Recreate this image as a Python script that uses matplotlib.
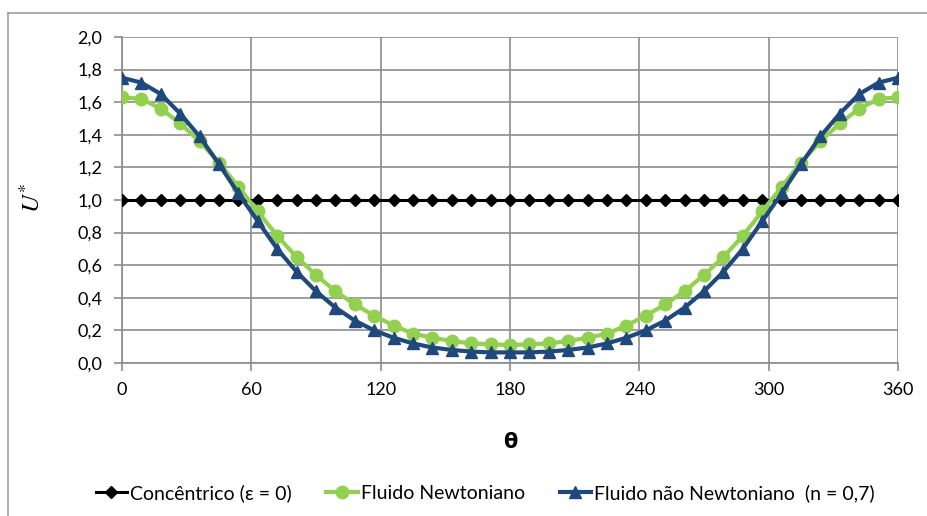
import matplotlib.pyplot as plt
from matplotlib.lines import Line2D

plt.rcParams['font.family'] = ['Lato', 'DejaVu Sans']

# angulo (graus), passo de 9
theta = list(range(0, 361, 9))

# Concentrico
u_conc = [1.0] * len(theta)

# Fluido Newtoniano (0..180, depois simetrico)
u_newt_meia = [1.63, 1.62, 1.56, 1.47, 1.36, 1.23, 1.08, 0.93, 0.78, 0.65, 0.54,
               0.44, 0.36, 0.29, 0.23, 0.18, 0.155, 0.135, 0.12, 0.115, 0.11]
u_newt = u_newt_meia + u_newt_meia[-2::-1]

# Fluido nao Newtoniano (n = 0,7)
u_nn_meia = [1.75, 1.72, 1.65, 1.53, 1.39, 1.22, 1.04, 0.87, 0.70, 0.56, 0.44,
             0.34, 0.26, 0.20, 0.155, 0.12, 0.095, 0.08, 0.07, 0.065, 0.065]
u_nn = u_nn_meia + u_nn_meia[-2::-1]

xticks = [0, 60, 120, 180, 240, 300, 360]
yticks = [0.0, 0.2, 0.4, 0.6, 0.8, 1.0, 1.2, 1.4, 1.6, 1.8, 2.0]

W, H = 927, 516
fig = plt.figure(figsize=(W / 100, H / 100), dpi=100)
ax = fig.add_axes([122 / W, 1 - 363 / H, (898 - 122) / W, (363 - 37) / H])

cor_grid = '#8c8c8c'
verde = '#92d050'
azul = '#1f497d'

ax.plot(theta, u_conc, color='black', lw=2.2, marker='D', ms=6, zorder=3,
        label='Concêntrico (ε = 0)')
ax.plot(theta, u_newt, color=verde, lw=3, marker='o', ms=9, zorder=4,
        label='Fluido Newtoniano')
ax.plot(theta, u_nn, color=azul, lw=3, marker='^', ms=9, zorder=5,
        label='Fluido não Newtoniano  (n = 0,7)')

ax.set_xlim(0, 360)
ax.set_ylim(0, 2.0)
ax.set_xticks(xticks)
ax.set_yticks(yticks)
ax.set_yticklabels([f'{v:.1f}'.replace('.', ',') for v in yticks])
ax.grid(True, color=cor_grid, lw=1.2)
ax.set_axisbelow(True)
for s in ['top', 'right']:
    ax.spines[s].set_visible(False)
for s in ['left', 'bottom']:
    ax.spines[s].set_color(cor_grid)
    ax.spines[s].set_linewidth(1.2)
ax.tick_params(axis='both', colors=cor_grid, length=6, width=1.2,
               labelcolor='black', labelsize=13)
ax.tick_params(axis='x', pad=8)
ax.tick_params(axis='y', pad=8)

ax.set_xlabel('θ', fontsize=15, fontweight='bold', labelpad=24,
              family=['DejaVu Sans'])
fig.text(32 / W, 1 - 198 / H, r'$U^{*}$', rotation=90, ha='center', va='center',
         fontsize=18, family='serif', math_fontfamily='stix')

fig.legend(loc='center', bbox_to_anchor=(485 / W, 1 - 493 / H), ncol=3, frameon=False,
           fontsize=14, handlelength=1.6, handletextpad=0.15, columnspacing=1.8)

# moldura do grafico
fig.add_artist(Line2D([8 / W, 1], [1 - 13 / H, 1 - 13 / H], color='#a0a0a0', lw=1.2))
fig.add_artist(Line2D([8 / W, 8 / W], [0, 1 - 13 / H], color='#a0a0a0', lw=1.2))

fig.savefig('out.png', dpi=100)
